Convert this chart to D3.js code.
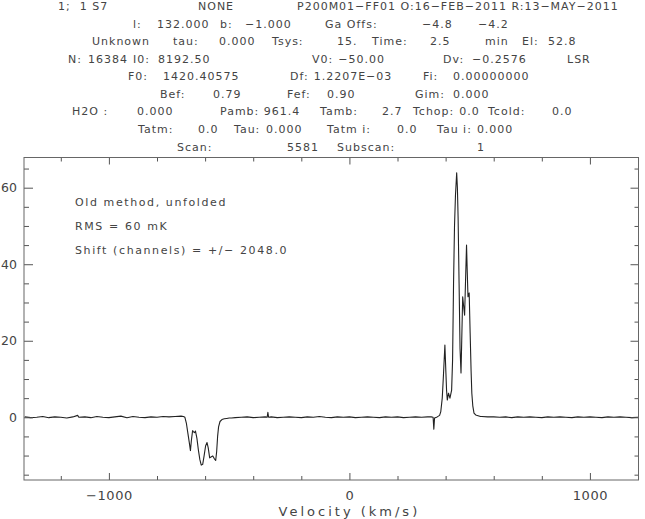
<!DOCTYPE html>
<html>
<head>
<meta charset="utf-8">
<script src="https://cdn.jsdelivr.net/npm/d3@7"></script>
<style>
  html, body { margin: 0; padding: 0; background: #fff; }
  svg { display: block; }
  text { font-family: "DejaVu Sans", sans-serif; fill: #444; }
</style>
</head>
<body>
<script>
// ---------------- DATA ----------------
const velocity = [
  -1350,-1325,-1300,-1275,-1250,-1225,-1200,-1175,-1150,-1130,-1125,-1100,-1075,-1050,-1025,-1000,
  -975,-950,-925,-900,-875,-850,-825,-800,-775,-750,-725,-700,
  -690,-684,-678,-672,-666,-661,-657,-652,-648,-644,-640,-634,-628,-622,-616,-610,-604,-598,-592,
  -587,-581,-574,-568,-562,-556,-552,-548,-544,-538,-530,-520,-510,-500,
  -490,-475,-450,-425,-400,-375,-350,-342,-339,-336,-325,-300,-275,-250,-225,-200,-175,-150,-125,
  -100,-75,-50,-25,0,25,50,75,100,125,150,175,200,225,250,275,300,325,
  340,348,351,354,365,375,380,386,391,397,401,404,407,412,418,425,429,433,437,441,446,449,452,456,
  460,464,467,471,475,479,483,487,490,493,498,502,506,509,513,518,525,535,545,
  550,575,600,625,650,675,700,725,750,775,800,825,850,875,900,925,950,975,1000,1025,1050,1075,
  1100,1125,1150,1175,1200
];
const tmb = [
  0.1,-0.1,0.0,0.2,-0.1,0.1,0.0,-0.2,0.1,0.5,0.0,0.1,-0.1,0.2,0.0,-0.1,
  0.1,0.3,-0.1,0.2,0.0,-0.1,0.1,0.0,0.2,0.1,0.2,0.3,
  0.2,0.0,-1.5,-4.0,-6.5,-8.7,-6.0,-3.5,-3.8,-4.0,-3.6,-5.5,-8.5,-11.0,-12.5,-12.3,-10.0,-7.5,-6.6,
  -8.0,-10.6,-10.3,-10.1,-10.8,-11.3,-9.0,-5.0,-2.5,-1.1,-0.6,-0.4,-0.3,-0.2,
  -0.2,-0.1,0.0,0.1,-0.1,0.0,0.1,0.0,1.3,0.0,0.1,-0.1,0.0,0.1,0.0,-0.1,0.1,0.0,0.2,
  0.0,-0.1,0.1,0.0,0.1,-0.1,0.0,0.1,0.0,-0.1,0.1,0.0,0.1,-0.1,0.0,0.1,0.0,0.1,
  0.1,0.0,-3.1,-0.2,0.1,0.5,1.5,5.0,11.0,18.9,12.0,7.0,4.5,6.3,5.0,7.1,15.0,35.0,50.0,58.0,63.9,60.0,52.0,35.0,
  18.0,11.6,20.0,31.5,29.0,26.7,36.0,45.0,38.0,31.5,32.5,22.0,12.0,6.3,3.0,1.1,0.6,0.4,0.2,
  0.2,0.1,0.1,0.0,0.1,-0.1,0.1,0.0,0.1,0.0,-0.1,0.1,0.0,0.1,0.0,-0.1,0.1,0.0,0.1,0.0,-0.1,0.1,
  0.0,0.1,0.0,-0.1,0.0
];
const xMajorTicks = [-1000, 0, 1000];
const xMinorTicks = [-1200,-800,-600,-400,-200,200,400,600,800,1200];
const yMajorTicks = [0, 20, 40, 60];
const yMinorTicks = [-15,-10,-5,5,10,15,25,30,35,45,50,55,65];
const xLabel = "Velocity (km/s)";
const annotations = ["Old method, unfolded", "RMS = 60 mK", "Shift (channels) = +/\u2212 2048.0"];
const headerLines = [
  ["1;  1 S7", "NONE", "P200M01\u2212FF01 O:16\u2212FEB\u22122011 R:13\u2212MAY\u22122011"],
  ["l:", "132.000", "b:", "\u22121.000", "Ga Offs:", "\u22124.8", "\u22124.2"],
  ["Unknown", "tau:", "0.000", "Tsys:", "15.", "Time:", "2.5", "min", "El:", "52.8"],
  ["N:", "16384", "I0:", "8192.50", "V0:", "\u221250.00", "Dv:", "\u22120.2576", "LSR"],
  ["F0:", "1420.40575", "Df:", "1.2207E\u221203", "Fi:", "0.00000000"],
  ["Bef:", "0.79", "Fef:", "0.90", "Gim:", "0.000"],
  ["H2O :", "0.000", "Pamb: 961.4", "Tamb:", "2.7", "Tchop:", "0.0", "Tcold:", "0.0"],
  ["Tatm:", "0.0", "Tau:", "0.000", "Tatm i:", "0.0", "Tau i:", "0.000"],
  ["Scan:", "5581", "Subscan:", "1"]
];
// layout (positions only)
const headerX = [
  [58, 198, 297],
  [133, 157, 220, 245, 325, 422, 478],
  [92, 173, 219, 272, 337, 372, 430, 485, 522, 548],
  [68, 88, 127, 158, 312, 337, 443, 472, 567],
  [128, 163, 290, 313, 423, 453],
  [160, 213, 287, 327, 415, 453],
  [72, 137, 220, 320, 382, 413, 456, 488, 552],
  [138, 198, 234, 266, 327, 397, 437, 475],
  [177, 287, 337, 477]
];
const headerY = [10, 27.5, 45, 62.5, 80, 97.5, 115, 133, 150.5];

// ---------------- CHART ----------------
const W = 645, H = 519;
const pLeft = 24, pRight = 638.5, pTop = 157.5, pBottom = 480;

const svg = d3.select("body").append("svg").attr("width", W).attr("height", H);

const x = d3.scaleLinear().domain([-1353, 1202]).range([pLeft, pRight]);
const y = d3.scaleLinear().domain([-16.39, 67.89]).range([pBottom, pTop]);

// header (segments nudged right if they would touch the previous one)
headerLines.forEach((segs, i) => {
  let prevEnd = -Infinity;
  segs.forEach((s, j) => {
    const t = svg.append("text")
      .attr("y", headerY[i])
      .attr("font-size", 11).attr("letter-spacing", 1.0)
      .style("white-space", "pre")
      .text(s);
    const xx = Math.max(headerX[i][j], prevEnd + 5);
    t.attr("x", xx);
    prevEnd = xx + t.node().getComputedTextLength();
  });
});

// clip for data
svg.append("clipPath").attr("id", "clip").append("rect")
  .attr("x", pLeft).attr("y", pTop).attr("width", pRight - pLeft).attr("height", pBottom - pTop);

const pts = velocity.map((v, i) => [v, tmb[i]]);
svg.append("path")
  .datum(pts)
  .attr("clip-path", "url(#clip)")
  .attr("fill", "none")
  .attr("stroke", "#222")
  .attr("stroke-width", 1.1)
  .attr("stroke-linejoin", "round")
  .attr("d", d3.line().x(d => x(d[0])).y(d => y(d[1])));

// axes
function styleAxis(g) {
  g.select(".domain").remove();
  g.selectAll("line").attr("stroke", "#555");
  g.selectAll("text").attr("font-family", "DejaVu Sans, sans-serif").attr("fill", "#444");
}
svg.append("g").attr("transform", `translate(0,${pBottom})`)
  .call(d3.axisBottom(x).tickValues(xMajorTicks).tickSize(-7).tickPadding(11)
    .tickFormat(d => d3.format("")(d).replace("-", "\u2212")))
  .call(styleAxis)
  .call(g => g.selectAll("text").attr("font-size", 13).attr("letter-spacing", 0.6));
svg.append("g").attr("transform", `translate(0,${pBottom})`)
  .call(d3.axisBottom(x).tickValues(xMinorTicks).tickSize(-4).tickFormat(""))
  .call(styleAxis);
svg.append("g").attr("transform", `translate(0,${pTop})`)
  .call(d3.axisTop(x).tickValues(xMajorTicks).tickSize(-7).tickFormat(""))
  .call(styleAxis);
svg.append("g").attr("transform", `translate(0,${pTop})`)
  .call(d3.axisTop(x).tickValues(xMinorTicks).tickSize(-4).tickFormat(""))
  .call(styleAxis);

svg.append("g").attr("transform", `translate(${pLeft},0)`)
  .call(d3.axisLeft(y).tickValues(yMajorTicks).tickSize(-9).tickPadding(7).tickFormat(d3.format("")))
  .call(styleAxis)
  .call(g => g.selectAll("text").attr("font-size", 12.5));
svg.append("g").attr("transform", `translate(${pLeft},0)`)
  .call(d3.axisLeft(y).tickValues(yMinorTicks).tickSize(-5).tickFormat(""))
  .call(styleAxis);
svg.append("g").attr("transform", `translate(${pRight},0)`)
  .call(d3.axisRight(y).tickValues(yMajorTicks).tickSize(-8).tickFormat(""))
  .call(styleAxis);
svg.append("g").attr("transform", `translate(${pRight},0)`)
  .call(d3.axisRight(y).tickValues(yMinorTicks).tickSize(-4).tickFormat(""))
  .call(styleAxis);

// frame
svg.append("rect")
  .attr("x", pLeft).attr("y", pTop).attr("width", pRight - pLeft).attr("height", pBottom - pTop)
  .attr("fill", "none").attr("stroke", "#666").attr("stroke-width", 1);

// x label
svg.append("text")
  .attr("x", x(0)).attr("y", 516)
  .attr("text-anchor", "middle")
  .attr("font-size", 13).attr("letter-spacing", 3.0)
  .text(xLabel);

// annotations
const annY = [206, 230, 254];
annotations.forEach((t, i) => {
  svg.append("text")
    .attr("x", 75).attr("y", annY[i])
    .attr("font-size", 11).attr("letter-spacing", 1.6)
    .style("white-space", "pre")
    .text(t);
});
</script>
</body>
</html>
